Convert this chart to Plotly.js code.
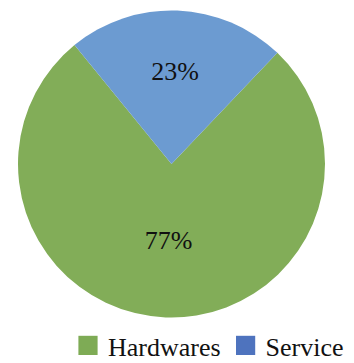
<!DOCTYPE html>
<html>
<head>
<meta charset="utf-8">
<script src="https://cdn.plot.ly/plotly-3.0.1.min.js"></script>
<style>html,body{margin:0;padding:0;background:#fff;}#chart{width:354px;height:363px;}</style>
</head>
<body>
<div id="chart"></div>
<script>
var labels = ["Hardwares", "Service"];
var values = [77, 23];
var colors = ["#82AD58", "#6C9BD1"];
var legendColors = ["#7EAB55", "#4E73BE"];

var data = [{
  type: "pie",
  labels: labels,
  values: values,
  sort: false,
  direction: "clockwise",
  rotation: 43.6,
  domain: {x: [18/354, 325/354], y: [1 - 318/363, 1 - 10/363]},
  marker: {colors: colors, line: {width: 0}},
  textinfo: "percent",
  texttemplate: "%{percent:.0%}",
  textposition: "inside",
  insidetextorientation: "horizontal",
  textfont: {family: "Times New Roman", size: 26, color: "#111111"},
  hoverinfo: "none"
}];

var layout = {
  width: 354,
  height: 363,
  margin: {l: 0, r: 0, t: 0, b: 0, autoexpand: false},
  paper_bgcolor: "#ffffff",
  showlegend: true,
  legend: {
    orientation: "h",
    x: 68/354,
    xanchor: "left",
    y: 1 - 322/363,
    yanchor: "top",
    font: {family: "Times New Roman", size: 26, color: "#111111"},
    itemclick: false
  }
};

Plotly.newPlot("chart", data, layout, {displayModeBar: false, staticPlot: true}).then(function (gd) {
  var pts = gd.querySelectorAll(".legend .legendpoints path");
  pts.forEach(function (p, i) {
    p.setAttribute("transform", "translate(20,0) scale(1.6)");
    if (legendColors[i]) p.style.fill = legendColors[i];
  });
});
</script>
</body>
</html>
